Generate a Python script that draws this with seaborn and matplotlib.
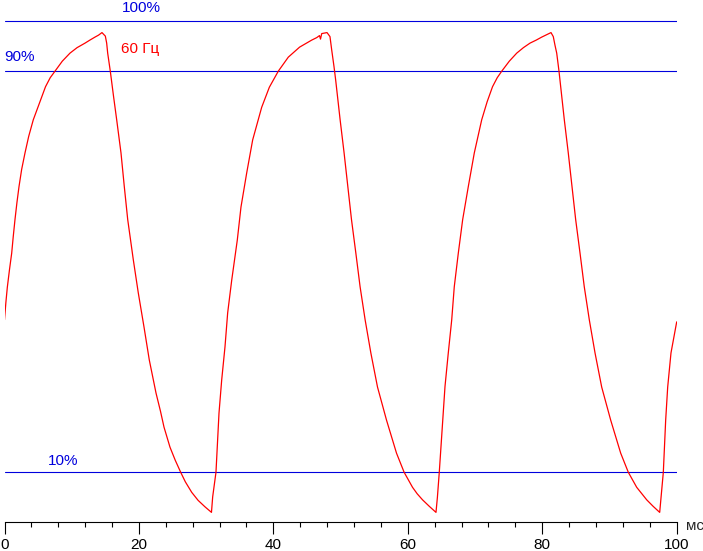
import matplotlib
matplotlib.use('Agg')
import matplotlib.pyplot as plt
from matplotlib.ticker import MultipleLocator
import pandas as pd
import seaborn as sns

# время (мс) и яркость (%) по участкам кривой
t_rise1 = [0.0, 0.2, 0.42, 0.75, 1.07, 1.3, 1.56, 1.85, 2.16, 2.55, 3.05, 3.6, 4.28, 4.75,
           5.28, 6.1, 6.8, 7.51, 8.6, 9.74, 10.8, 11.98, 12.7, 13.46, 14.0, 14.5]
v_rise1 = [40.4, 43.8, 46.9, 50.5, 53.7, 57.0, 60.4, 63.8, 67.0, 70.4, 73.7, 77.0, 80.3, 82.0,
           83.9, 86.9, 88.7, 90.0, 92.0, 93.6, 94.7, 95.6, 96.2, 96.8, 97.2, 97.7]

t_fall1 = [15.0, 15.2, 15.35, 15.74, 16.2, 16.69, 17.33, 17.82, 18.33, 19.16, 19.90, 20.75,
           21.54, 22.54, 23.2, 23.73, 24.62, 25.4, 26.21, 26.9, 27.85, 28.8, 29.83, 30.79]
v_fall1 = [97.0, 95.6, 93.6, 90.0, 85.2, 80.3, 73.7, 67.0, 60.4, 52.4, 45.8, 39.0,
           32.4, 25.8, 22.2, 19.0, 15.0, 12.4, 10.0, 8.1, 6.0, 4.4, 3.1, 2.0]

t_rise2 = [30.97, 31.46, 31.7, 31.91, 32.31, 32.80, 33.20, 33.80, 34.63, 35.18, 36.03, 36.92,
           38.26, 39.4, 40.73, 42.22, 43.9, 45.70, 46.45, 46.86, 47.01, 47.19, 47.98]
v_rise2 = [5.1, 10.0, 16.5, 21.8, 28.4, 35.0, 41.8, 48.3, 56.3, 62.9, 69.7, 76.3,
           82.8, 86.8, 90.0, 92.8, 94.8, 96.2, 96.7, 97.1, 96.4, 97.5, 97.7]

t_fall2 = [48.42, 48.68, 49.02, 49.27, 49.93, 50.52, 51.07, 51.62, 52.26, 52.90, 53.65, 54.50,
           55.49, 56.83, 58.32, 59.45, 60.70, 61.4, 62.19, 63.2, 64.19]
v_fall2 = [96.9, 94.2, 90.9, 88.2, 80.3, 73.7, 67.0, 60.4, 53.8, 47.0, 40.4, 33.8,
           27.0, 20.4, 13.8, 10.0, 7.0, 5.7, 4.5, 3.2, 2.0]

t_rise3 = [64.4, 64.68, 65.19, 65.53, 66.02, 66.53, 66.91, 67.51, 68.16, 69.00, 69.89, 70.99,
           71.8, 72.6, 73.3, 73.97, 75.1, 76.20, 77.2, 78.18, 79.1, 79.92, 80.7, 81.30]
v_rise3 = [5.0, 10.0, 20.4, 27.1, 33.8, 40.4, 47.0, 53.7, 60.4, 67.0, 73.7, 80.3,
           83.9, 86.9, 88.7, 90.0, 92.0, 93.6, 94.7, 95.6, 96.2, 96.8, 97.3, 97.7]

t_fall3 = [81.64, 81.89, 82.15, 82.49, 83.28, 83.87, 84.42, 84.97, 85.61, 86.25, 87.00, 87.85,
           88.84, 90.18, 91.67, 92.80, 94.05, 95.54, 96.5, 97.47]
v_fall3 = [96.9, 95.2, 93.6, 90.0, 80.3, 73.7, 67.0, 60.4, 53.8, 47.0, 40.4, 33.8,
           27.0, 20.4, 13.8, 10.0, 7.0, 4.5, 3.2, 2.0]

t_rise4 = [97.7, 98.01, 98.36, 98.66, 99.15, 100.0]
v_rise4 = [5.5, 10.0, 20.4, 27.0, 33.8, 40.0]

levels = [100, 90, 10]
x_ticks = [0, 20, 40, 60, 80, 100]

df = pd.DataFrame({
    't': t_rise1 + t_fall1 + t_rise2 + t_fall2 + t_rise3 + t_fall3 + t_rise4,
    'v': v_rise1 + v_fall1 + v_rise2 + v_fall2 + v_rise3 + v_fall3 + v_rise4,
})

sns.set_style('white')
plt.rcParams['font.family'] = ['Liberation Sans', 'DejaVu Sans']

blue = '#0000dd'
red = '#ff0000'

fig = plt.figure(figsize=(7.03, 5.51), dpi=100)
ax = fig.add_axes([4.5 / 703, 28.6 / 551, 672.2 / 703, 522.4 / 551])

for lv in levels:
    ax.axhline(lv, color=blue, lw=0.8, zorder=1)

sns.lineplot(data=df, x='t', y='v', color=red, lw=0.9, sort=False,
             estimator=None, ax=ax, zorder=3)

ax.set_xlim(0, 100)
ax.set_ylim(0, 104.2)
ax.set_xticks(x_ticks)
ax.xaxis.set_minor_locator(MultipleLocator(4))
ax.set_yticks([])
ax.set_xlabel('')
ax.set_ylabel('')
for s in ['left', 'right', 'top']:
    ax.spines[s].set_visible(False)
ax.spines['bottom'].set_color('black')
ax.spines['bottom'].set_linewidth(0.8)
ax.tick_params(axis='x', which='major', direction='out', length=8.4, width=0.8,
               color='black', labelsize=11, labelcolor='black', pad=2.5, bottom=True)
ax.tick_params(axis='x', which='minor', direction='out', length=3.6, width=0.8,
               color='black', bottom=True)

ax.text(17.5, 101.8, '100%', color=blue, fontsize=11, va='baseline')
ax.text(-0.1, 92.0, '90%', color=blue, fontsize=11, va='baseline')
ax.text(6.5, 11.45, '10%', color=blue, fontsize=11, va='baseline')
ax.text(17.3, 93.6, '60 Гц', color=red, fontsize=11, va='baseline')
fig.text(686 / 703, 1 - 530 / 551, 'мс', fontsize=11, va='baseline')

fig.savefig('out.png', dpi=100)
